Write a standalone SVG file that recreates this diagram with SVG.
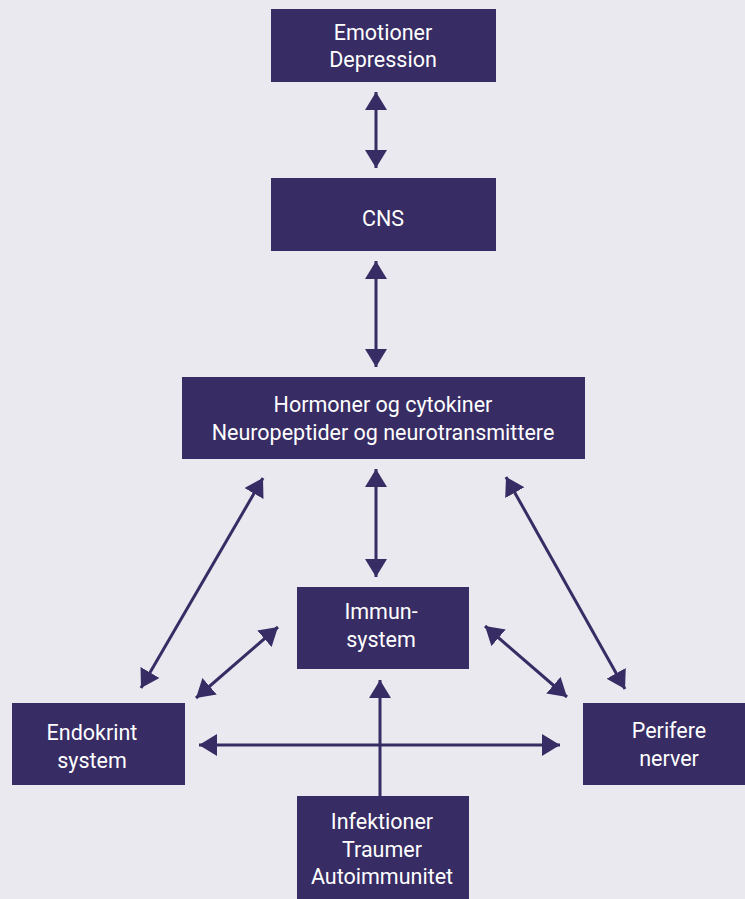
<svg xmlns="http://www.w3.org/2000/svg" width="745" height="899" viewBox="0 0 745 899">
<defs>
<style>
.box{fill:#372c63}
.t{fill:#ffffff;font-family:Roboto,"Liberation Sans",sans-serif;font-size:21.5px;font-weight:400;text-anchor:middle}
.c{stroke:#372c63;stroke-width:3;fill:none;marker-start:url(#ah);marker-end:url(#ah)}
.u{stroke:#372c63;stroke-width:3;fill:none;marker-end:url(#ah)}
</style>
<marker id="ah" markerUnits="userSpaceOnUse" markerWidth="19" markerHeight="24" refX="18" refY="11" orient="auto-start-reverse" viewBox="0 0 19 24">
<path d="M0,0 L18,11 L0,22 z" fill="#372c63"/>
</marker>
</defs>
<rect width="745" height="899" fill="#eae9f0"/>
<g id="connectors">
<line class="c" x1="376" y1="92" x2="376" y2="168"/>
<line class="c" x1="376" y1="261" x2="376" y2="367"/>
<line class="c" x1="376" y1="469" x2="376" y2="577"/>
<line class="c" x1="263" y1="478" x2="141" y2="688"/>
<line class="c" x1="506" y1="477" x2="625" y2="689"/>
<line class="c" x1="278" y1="627" x2="196" y2="698"/>
<line class="c" x1="485" y1="626" x2="567" y2="697"/>
<line class="c" x1="199" y1="745" x2="560" y2="745"/>
<line class="u" x1="380" y1="796" x2="380" y2="680"/>
</g>
<g id="emotioner">
<rect class="box" x="271" y="9" width="225" height="73"/>
<text class="t" x="383" y="40">Emotioner</text>
<text class="t" x="383" y="67">Depression</text>
</g>
<g id="cns">
<rect class="box" x="271" y="178" width="225" height="73"/>
<text class="t" x="383" y="226">CNS</text>
</g>
<g id="hormoner">
<rect class="box" x="182" y="377" width="403" height="82"/>
<text class="t" x="383" y="412">Hormoner og cytokiner</text>
<text class="t" x="383" y="440">Neuropeptider og neurotransmittere</text>
</g>
<g id="immun">
<rect class="box" x="297" y="587" width="172" height="82"/>
<text class="t" x="381" y="619">Immun-</text>
<text class="t" x="381" y="647">system</text>
</g>
<g id="endokrint">
<rect class="box" x="12" y="703" width="173" height="82"/>
<text class="t" x="92" y="740">Endokrint</text>
<text class="t" x="92" y="768">system</text>
</g>
<g id="perifere">
<rect class="box" x="583" y="703" width="162" height="82"/>
<text class="t" x="669" y="738">Perifere</text>
<text class="t" x="669" y="766">nerver</text>
</g>
<g id="infektioner">
<rect class="box" x="297" y="796" width="172" height="103"/>
<text class="t" x="382" y="829">Infektioner</text>
<text class="t" x="382" y="857">Traumer</text>
<text class="t" x="382" y="884">Autoimmunitet</text>
</g>
</svg>
